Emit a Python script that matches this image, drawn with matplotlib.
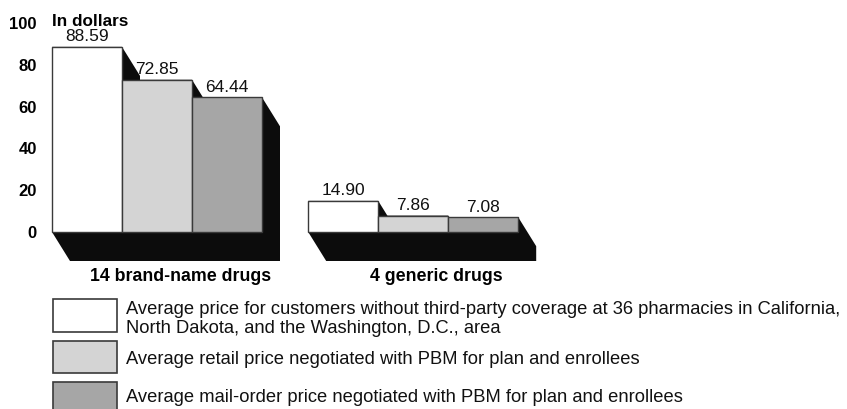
import matplotlib
matplotlib.use('Agg')
import matplotlib.pyplot as plt
from matplotlib.patches import Polygon, Rectangle

plt.rcParams['font.family'] = ['Liberation Sans', 'DejaVu Sans']

# data
groups = ['14 brand-name drugs', '4 generic drugs']
series = [
    'Average price for customers without third-party coverage at 36 pharmacies in California,\nNorth Dakota, and the Washington, D.C., area',
    'Average retail price negotiated with PBM for plan and enrollees',
    'Average mail-order price negotiated with PBM for plan and enrollees',
]
brand_prices = [88.59, 72.85, 64.44]
generic_prices = [14.90, 7.86, 7.08]
yticks = [0, 20, 40, 60, 80, 100]

colors = ['#ffffff', '#d4d4d4', '#a6a6a6']
edge = '#3a3a3a'

W, H = 847, 409
fig = plt.figure(figsize=(W / 100, H / 100), dpi=100)

# main axes: y=0 at 232px, 2.09 px per dollar, bar width 70px
ylo, yhi = -25, 110
px_per_unit = 2.09
top_px = 232 - yhi * px_per_unit
bot_px = 232 - ylo * px_per_unit
left_px = 48
bar_px = 70
ax = fig.add_axes([left_px / W, (H - bot_px) / H, 1 - left_px / W, (bot_px - top_px) / H])
ax.set_ylim(ylo, yhi)
x0 = (52 - left_px) / bar_px
ax.set_xlim(-x0, (W - left_px) / bar_px - x0)

dx = 18 / bar_px
dy = 29 / px_per_unit
group_step = 3.66

all_vals = [brand_prices, generic_prices]

# shadows first
for g, vals in enumerate(all_vals):
    for i, v in enumerate(vals):
        a = g * group_step + i
        b = a + 1
        pts = [(a, v), (b, v), (b + dx, v - dy), (b + dx, -dy), (a + dx, -dy), (a, 0)]
        ax.add_patch(Polygon(pts, closed=True, facecolor='#0c0c0c', edgecolor='none', zorder=1))

for g, vals in enumerate(all_vals):
    lefts = [g * group_step + i for i in range(len(vals))]
    ax.bar(lefts, vals, width=1, align='edge', color=colors, edgecolor=edge,
           linewidth=1.0, zorder=2)
    for xl, v in zip(lefts, vals):
        ax.text(xl + 0.5, v + 1.2, f'{v:.2f}', ha='center', va='bottom', fontsize=12.5, color='#111111')
    ax.text(g * group_step + 1.5 + 0.33, -21.5, groups[g], ha='center', va='center',
            fontsize=12.8, fontweight='bold', clip_on=False)

ax.set_yticks(yticks)
ax.set_yticklabels([str(t) for t in yticks], fontsize=12, fontweight='bold')
ax.tick_params(axis='y', length=0, pad=8)
ax.set_xticks([])
for s in ax.spines.values():
    s.set_visible(False)
ax.patch.set_alpha(0)
ax.text(0, 100.5, 'In dollars', ha='left', va='center', fontsize=12.3, fontweight='bold')

# legend in pixel coordinates
lg = fig.add_axes([0, 0, 1, 1])
lg.set_xlim(0, W)
lg.set_ylim(H, 0)
lg.axis('off')
lg.patch.set_alpha(0)
boxes = [(299, 332), (341, 373), (382, 414)]
text_y = [319, 359, 397]
for (y1, y2), c, label, ty in zip(boxes, colors, series, text_y):
    lg.add_patch(Rectangle((53, y1), 64, y2 - y1, facecolor=c, edgecolor=edge, linewidth=1.2))
    lg.text(126, ty, label, ha='left', va='center', fontsize=13.2, linespacing=1.08, color='#111111')

fig.savefig('out.png', dpi=100)
